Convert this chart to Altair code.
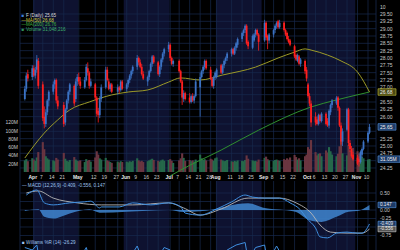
import altair as alt
import pandas as pd

# ---------------- data ----------------
HOLIDAYS = ["2014-04-18", "2014-05-26", "2014-07-04", "2014-09-01"]
trade_days = [d.strftime("%Y-%m-%dT00:00:00") for d in pd.bdate_range("2014-03-26", "2014-11-11")
              if d.strftime("%Y-%m-%d") not in HOLIDAYS]

opens = [
    26.6, 26.95, 27.45, 27.35,
    27.65, 27.4, 27.6, 27.9, 27.1, 26.0, 25.75, 26.15, 26.55, 26.85, 27.1, 27.25, 26.55, 26.4, 25.8, 26.25, 26.55, 26.85, 27.05, 26.6, 27.2,
    27.35, 27.2, 27.0, 27.25, 27.65, 27.5, 27.05, 27.1, 26.65, 26.2, 26.05, 26.6, 27.0, 27.6, 27.2, 26.95, 27.1, 26.85, 27.0, 26.9, 27.2,
    26.95, 27.1, 27.25, 27.4, 27.55, 27.7, 28.0, 27.85, 27.7, 27.45, 27.2, 27.35, 27.55, 27.8, 28.05, 27.85, 27.45, 27.7, 27.95, 28.15, 28.3,
    28.45, 28.0, 27.8, 27.9, 27.55, 27.2, 26.6, 26.8, 26.65, 26.5, 26.7, 26.55, 26.7, 27.0, 27.35, 27.55, 27.7, 27.9, 27.6, 27.3, 27.05, 27.35,
    27.35, 27.75, 27.5, 27.75, 27.9, 28.0, 28.15, 28.3, 28.15, 28.35, 28.45, 28.65, 28.85, 28.95, 29.1, 28.55, 28.35, 28.6, 28.8, 28.95, 28.8,
    28.6, 29.2, 28.75, 28.6, 28.8, 28.95, 29.1, 29.25, 29.05, 29.2, 28.95, 28.85, 28.65, 28.6, 28.4, 28.1, 27.9, 28.05, 27.8, 27.9, 27.6,
    27.1, 26.7, 26.45, 26.0, 25.9, 25.75, 26.05, 25.85, 26.1, 25.85, 25.7, 26.15, 26.4, 26.45, 26.65, 26.3, 25.7, 25.15, 25.55, 26.25, 25.1, 24.9, 24.7,
    24.6, 24.55, 24.45, 24.7, 24.9, 25.15, 25.45,
]
highs = [
    27.05, 27.5, 27.6, 27.75,
    27.75, 27.7, 28.1, 28.0, 27.2, 26.35, 26.25, 26.6, 26.9, 27.2, 27.3, 27.3, 26.7, 26.5, 26.3, 26.6, 26.9, 27.15, 27.1, 27.3, 27.45,
    27.5, 27.35, 27.35, 27.8, 27.85, 27.55, 27.3, 27.15, 26.7, 26.3, 26.7, 27.1, 27.7, 27.7, 27.3, 27.15, 27.15, 27.1, 27.05, 27.25, 27.25,
    27.15, 27.3, 27.45, 27.6, 27.75, 28.1, 28.05, 27.95, 27.8, 27.55, 27.4, 27.6, 27.85, 28.1, 28.1, 27.9, 27.75, 28.0, 28.2, 28.35, 28.55,
    28.5, 28.05, 27.95, 27.95, 27.6, 27.25, 26.9, 26.85, 26.8, 26.75, 26.8, 26.75, 27.3, 27.5, 27.6, 27.75, 27.95, 27.95, 27.7, 27.35, 27.4, 27.55,
    27.65, 27.8, 27.8, 27.95, 28.05, 28.2, 28.35, 28.35, 28.4, 28.55, 28.7, 28.9, 29.0, 29.15, 29.15, 28.6, 28.8, 28.85, 29.0, 29.0, 28.85,
    29.3, 29.25, 28.8, 28.85, 29.0, 29.15, 29.25, 29.3, 29.3, 29.25, 29.0, 28.9, 28.75, 28.65, 28.45, 28.15, 28.15, 28.1, 28.0, 27.95, 27.7,
    27.15, 26.8, 26.55, 26.15, 26.0, 26.1, 26.1, 26.15, 26.15, 25.95, 26.25, 26.45, 26.6, 26.7, 26.7, 26.35, 25.8, 25.6, 26.3, 26.3, 25.2, 25.0, 24.8,
    24.7, 24.65, 24.85, 24.95, 25.2, 25.5, 25.75,
]
lows = [
    26.55, 26.85, 27.2, 27.25,
    27.35, 27.3, 27.5, 26.95, 25.85, 25.6, 25.65, 26.05, 26.35, 26.75, 26.95, 26.45, 26.25, 25.65, 25.7, 26.15, 26.45, 26.75, 26.35, 26.5, 27.05,
    27.1, 26.95, 26.95, 27.2, 27.4, 26.95, 27.0, 26.55, 26.0, 25.8, 25.95, 26.5, 26.95, 27.2, 26.9, 26.85, 26.8, 26.75, 26.8, 26.85, 26.9,
    26.85, 27.0, 27.15, 27.3, 27.45, 27.6, 27.75, 27.65, 27.4, 27.25, 27.05, 27.25, 27.5, 27.7, 27.8, 27.4, 27.35, 27.6, 27.85, 28.05, 28.2,
    27.9, 27.75, 27.7, 27.5, 27.15, 26.4, 26.5, 26.55, 26.45, 26.45, 26.5, 26.45, 26.65, 26.0, 27.3, 27.45, 27.6, 27.6, 27.25, 27.0, 26.95, 27.25,
    27.3, 27.45, 27.45, 27.65, 27.8, 27.9, 28.05, 28.1, 28.1, 28.25, 28.35, 28.55, 28.75, 28.85, 28.45, 28.3, 28.3, 28.55, 28.7, 28.75, 28.25,
    28.55, 28.6, 28.3, 28.5, 28.7, 28.85, 29.0, 29.0, 29.0, 28.9, 28.75, 28.6, 28.5, 28.4, 28.0, 27.9, 27.85, 27.75, 27.7, 27.45, 27.2,
    26.65, 26.35, 25.65, 25.7, 25.7, 25.7, 25.8, 25.8, 25.7, 25.65, 25.6, 26.05, 26.3, 26.4, 26.2, 25.65, 25.05, 25.0, 25.5, 25.0, 24.8, 24.6, 24.5,
    24.35, 24.3, 24.4, 24.6, 24.85, 25.1, 25.4,
]
closes = [
    26.95, 27.4, 27.3, 27.65,
    27.4, 27.6, 27.95, 27.05, 25.95, 25.75, 26.15, 26.55, 26.85, 27.1, 27.25, 26.55, 26.35, 25.75, 26.25, 26.55, 26.85, 27.1, 26.45, 27.2, 27.35,
    27.2, 27.05, 27.25, 27.7, 27.5, 27.05, 27.2, 26.65, 26.1, 26.05, 26.6, 27.0, 27.6, 27.25, 26.95, 27.1, 26.85, 27.0, 26.9, 27.2, 26.95,
    27.1, 27.25, 27.4, 27.55, 27.7, 28.0, 27.85, 27.7, 27.45, 27.3, 27.35, 27.55, 27.8, 28.05, 27.85, 27.45, 27.7, 27.95, 28.15, 28.3, 28.45,
    28.0, 27.8, 27.9, 27.55, 27.2, 26.65, 26.8, 26.6, 26.5, 26.7, 26.55, 26.7, 27.2, 27.35, 27.55, 27.7, 27.9, 27.65, 27.3, 27.05, 27.35, 27.5,
    27.6, 27.5, 27.75, 27.9, 28.0, 28.15, 28.3, 28.15, 28.35, 28.5, 28.65, 28.85, 28.95, 29.1, 28.5, 28.4, 28.75, 28.8, 28.95, 28.8, 28.55,
    29.2, 28.7, 28.6, 28.8, 28.95, 29.1, 29.2, 29.05, 29.2, 28.95, 28.8, 28.65, 28.55, 28.45, 28.05, 27.95, 28.1, 27.8, 27.95, 27.55, 27.3,
    26.7, 26.45, 25.8, 25.8, 25.75, 26.05, 25.85, 26.1, 25.75, 25.7, 26.2, 26.4, 26.55, 26.65, 26.3, 25.7, 25.15, 25.5, 26.25, 25.1, 24.9, 24.65, 24.55,
    24.4, 24.45, 24.8, 24.9, 25.15, 25.45, 25.65,
]
volumes_m = [
    28, 31, 26, 33,
    30, 27, 35, 48, 72, 55, 38, 33, 30, 28, 26, 34, 30, 46, 32, 27, 25, 29, 36, 30, 27,
    26, 28, 24, 31, 27, 29, 25, 35, 50, 42, 33, 30, 34, 28, 26, 24, 22, 25, 23, 26, 24,
    25, 23, 26, 24, 27, 33, 28, 25, 27, 24, 26, 28, 30, 32, 29, 27, 25, 28, 30, 27, 29,
    31, 27, 22, 28, 33, 45, 34, 27, 29, 26, 28, 25, 30, 42, 33, 29, 31, 28, 32, 30, 27, 33,
    35, 30, 28, 26, 27, 29, 26, 24, 27, 25, 28, 27, 26, 29, 40, 32, 28, 26, 27, 25, 30,
    34, 37, 31, 28, 27, 29, 30, 28, 27, 31, 29, 33, 30, 35, 41, 36, 30, 33, 28, 38, 42,
    60, 55, 77, 48, 40, 44, 45, 38, 52, 47, 60, 50, 42, 38, 44, 62, 77, 45, 40, 65, 52, 47, 58,
    50, 45, 40, 36, 33, 30, 31,
]

ma50_dates = ["2014-03-26", "2014-04-08", "2014-04-17", "2014-04-25", "2014-05-08", "2014-05-23",
              "2014-06-03", "2014-06-16", "2014-06-30", "2014-07-08", "2014-07-21", "2014-08-05",
              "2014-08-27", "2014-09-11", "2014-09-22", "2014-09-29", "2014-10-03", "2014-10-14",
              "2014-10-23", "2014-11-03", "2014-11-11"]
ma50_vals = [24.59, 25.44, 25.89, 26.23, 26.50, 26.74, 26.84, 26.91, 27.18, 27.32, 27.25, 27.42,
             27.69, 28.0, 28.20, 28.31, 28.27, 28.10, 27.90, 27.52, 26.84]

ma200_dates = ["2014-06-30", "2014-07-08", "2014-08-04", "2014-08-29", "2014-10-03", "2014-10-20", "2014-11-11"]
ma200_vals = [23.95, 24.18, 24.86, 25.54, 26.33, 26.57, 26.84]

macd_dates = ["2014-03-27", "2014-04-03", "2014-04-08", "2014-04-14", "2014-04-25", "2014-05-05",
              "2014-05-09", "2014-05-15", "2014-05-16", "2014-05-28", "2014-06-06", "2014-06-18",
              "2014-06-30", "2014-07-08", "2014-07-11", "2014-07-21", "2014-08-01", "2014-08-11",
              "2014-08-20", "2014-08-25", "2014-09-02", "2014-09-12", "2014-09-19", "2014-09-26",
              "2014-09-30", "2014-10-06", "2014-10-09", "2014-10-14", "2014-10-20", "2014-10-27",
              "2014-11-03", "2014-11-06", "2014-11-11"]
macd_vals = [0.44, 0.59, 0.21, 0.15, 0.21, 0.24, 0.26, 0.06, 0.09, 0.09, 0.21, 0.15, 0.21, 0.09,
             -0.09, -0.15, 0.03, 0.24, 0.44, 0.38, 0.35, 0.35, 0.21, 0.0, -0.24, -0.53, -0.79,
             -0.82, -0.68, -0.65, -0.68, -0.68, -0.41]

signal_dates = ["2014-03-27", "2014-04-04", "2014-04-14", "2014-04-30", "2014-05-16", "2014-06-06",
                "2014-06-30", "2014-07-10", "2014-07-21", "2014-08-04", "2014-08-22", "2014-09-12",
                "2014-09-23", "2014-10-03", "2014-10-09", "2014-10-16", "2014-10-27", "2014-11-06",
                "2014-11-11"]
signal_vals = [0.50, 0.56, 0.35, 0.21, 0.15, 0.15, 0.21, 0.06, -0.15, 0.03, 0.35, 0.35, 0.21,
               -0.09, -0.44, -0.65, -0.68, -0.68, -0.56]

hist_dates = ["2014-03-26", "2014-04-04", "2014-04-08", "2014-04-14", "2014-04-25", "2014-05-08",
              "2014-05-15", "2014-06-02", "2014-06-16", "2014-06-30", "2014-07-10", "2014-07-21",
              "2014-08-05", "2014-08-15", "2014-08-22", "2014-09-02", "2014-09-15", "2014-09-23",
              "2014-10-02", "2014-10-10", "2014-10-20", "2014-10-28", "2014-11-03", "2014-11-11"]
hist_vals = [-0.03, 0.02, -0.2, -0.25, -0.1, 0.02, -0.08, -0.05, -0.02, 0.0, -0.06, -0.04, 0.08,
             0.18, 0.2, 0.06, 0.0, -0.06, -0.3, -0.35, -0.2, -0.05, -0.03, 0.15]

wr_dates = ["2014-03-26", "2014-03-31", "2014-04-03", "2014-04-08", "2014-04-15", "2014-04-21",
            "2014-04-25", "2014-05-01", "2014-05-06", "2014-05-13", "2014-05-19", "2014-05-27",
            "2014-06-03", "2014-06-09", "2014-06-16", "2014-06-27", "2014-07-01", "2014-07-09",
            "2014-07-18", "2014-07-24", "2014-07-29", "2014-08-08", "2014-08-14", "2014-08-20",
            "2014-08-22", "2014-08-27", "2014-09-02", "2014-09-04", "2014-09-10", "2014-09-17",
            "2014-09-24", "2014-10-03", "2014-10-10", "2014-10-17", "2014-10-21", "2014-10-24",
            "2014-10-28", "2014-11-03", "2014-11-11"]
wr_vals = [-15, -20, -10, -90, -30, -85, -25, -40, -15, -85, -30, -60, -40, -12, -70, -15, -20,
           -90, -40, -25, -70, -20, -10, -5, -40, -15, -10, -45, -12, -50, -80, -95, -80, -50,
           -35, -85, -70, -95, -26]

shade_start = ["2014-03-31T12:00:00", "2014-05-31T00:00:00", "2014-07-31T12:00:00", "2014-09-30T12:00:00"]
shade_end = ["2014-04-30T12:00:00", "2014-06-30T12:00:00", "2014-08-31T00:00:00", "2014-11-01T12:00:00"]

date_label_dates = ["2014-04-01", "2014-04-07", "2014-04-14", "2014-04-21", "2014-05-01", "2014-05-12",
                    "2014-05-19", "2014-05-27", "2014-06-02", "2014-06-09", "2014-06-16", "2014-06-23",
                    "2014-07-01", "2014-07-07", "2014-07-14", "2014-07-21", "2014-07-28", "2014-08-01",
                    "2014-08-11", "2014-08-18", "2014-08-25", "2014-09-02", "2014-09-08", "2014-09-15",
                    "2014-09-22", "2014-10-01", "2014-10-06", "2014-10-13", "2014-10-20", "2014-10-27",
                    "2014-11-03", "2014-11-10"]
date_labels = ["Apr", "7", "14", "21", "May", "12", "19", "27", "Jun", "9", "16", "23", "Jul", "7",
               "14", "21", "28", "Aug", "11", "18", "25", "Sep", "8", "15", "22", "Oct", "6", "13",
               "20", "27", "Nov", "10"]
MONTHS = {"Apr", "May", "Jun", "Jul", "Aug", "Sep", "Oct", "Nov"}

price_ticks = [24.25, 24.5, 24.75, 25.0, 25.25, 25.5, 25.75, 26.0, 26.25, 26.5, 26.75, 27.0,
               27.25, 27.5, 27.75, 28.0, 28.25, 28.5, 28.75, 29.0, 29.25, 29.5]
price_hidden = [24.5, 25.5, 25.75, 26.75]          # covered by value boxes in the reference
price_top_tick = 29.75
price_top_label = "10"
macd_ticks = [0.5, 0.25, 0.0, -0.25, -0.5, -0.75]
macd_hidden = [0.25, -0.5]
vol_ticks = [20, 40, 60, 80, 100, 120]

legend_lines = ["F (Daily) 25.65", "MA(50) 26.68", "MA(200) 26.76", "Volume 31,048,216"]
legend_colors = ["#d8d8d8", "#c8c43a", "#3fae3f", "#3fae6a"]
legend_icons = ["\u25a0", "\u2014", "\u2014", "\u25a0"]
legend_icon_colors = ["#3d7fd6", "#c8c43a", "#3fae3f", "#2f8f5a"]
macd_legend = "MACD (12,26,9) -0.409, -0.556, 0.147"
wr_legend = "Williams %R (14) -26.29"

# ---------------- styling ----------------
FONT = "Liberation Sans"
BG = "#000000"
SHADE = "#0e1230"
GRID = "#17294e"
UP = "#3b72c4"
DOWN = "#ff1f1f"
VUP = "#25684a"
VDOWN = "#6a3540"
LBL = "#c9c9c9"


def dt(s):
    return s if "T" in s else s + "T00:00:00"


X = alt.Scale(domain=[alt.DateTime(year=2014, month=3, date=26, hours=3),
                      alt.DateTime(year=2014, month=11, date=12)], range=[20, 376])
P = alt.Scale(domain=[24.113, 29.977], range=[172, 0], zero=False, nice=False)
V = alt.Scale(domain=[0, 414.5], range=[172, 0], nice=False)
M = alt.Scale(domain=[-0.853, 0.853], range=[239, 181], zero=False, nice=False)
W = alt.Scale(domain=[-100, 0], range=[290, 240], zero=False, nice=False)


def xe(f):
    return alt.X(f + ":T", scale=X, axis=None)


df = pd.DataFrame({"d": trade_days, "o": opens, "h": highs, "l": lows, "c": closes, "v": volumes_m})
df["cc"] = [UP if c >= o else DOWN for o, c in zip(df.o, df.c)]
df["vc"] = [VUP if c >= o else VDOWN for o, c in zip(df.o, df.c)]

shade = pd.DataFrame({"s": shade_start, "e": shade_end})
vgrid = pd.DataFrame({"d": [dt(s) for s in date_label_dates]})
lab = pd.DataFrame({"d": [dt(s) for s in date_label_dates], "t": date_labels})
lab["m"] = [t in MONTHS for t in lab.t]

layers = []
# month shading
for y0, y1 in [(0, 172), (181, 250)]:
    layers.append(alt.Chart(shade).mark_rect(color=SHADE).encode(
        x=xe("s"), x2="e:T", y=alt.value(y0), y2=alt.value(y1)))
# grid
for y0, y1 in [(0, 172), (181, 250)]:
    layers.append(alt.Chart(vgrid).mark_rule(color=GRID, strokeWidth=0.7).encode(
        x=xe("d"), y=alt.value(y0), y2=alt.value(y1)))
layers.append(alt.Chart(pd.DataFrame({"p": price_ticks})).mark_rule(color=GRID, strokeWidth=0.7).encode(
    y=alt.Y("p:Q", scale=P, axis=None), x=alt.value(20), x2=alt.value(376)))
layers.append(alt.Chart(pd.DataFrame({"p": macd_ticks})).mark_rule(color=GRID, strokeWidth=0.7).encode(
    y=alt.Y("p:Q", scale=M, axis=None), x=alt.value(20), x2=alt.value(376)))
# frame lines
layers.append(alt.Chart(pd.DataFrame({"x": [20, 376]})).mark_rule(color=GRID, strokeWidth=0.8).encode(
    x=alt.X("x:Q", scale=None, axis=None), y=alt.value(0), y2=alt.value(250)))

# volume
layers.append(alt.Chart(df).mark_bar(size=2.1).encode(
    x=xe("d"), y=alt.Y("v:Q", scale=V, axis=None), color=alt.Color("vc:N", scale=None)))
# moving averages
layers.append(alt.Chart(pd.DataFrame({"d": [dt(s) for s in ma200_dates], "p": ma200_vals}))
              .mark_line(color="#2f8f2f", strokeWidth=1, interpolate="monotone").encode(
    x=xe("d"), y=alt.Y("p:Q", scale=P, axis=None)))
layers.append(alt.Chart(pd.DataFrame({"d": [dt(s) for s in ma50_dates], "p": ma50_vals}))
              .mark_line(color="#9c9a28", strokeWidth=1, interpolate="monotone").encode(
    x=xe("d"), y=alt.Y("p:Q", scale=P, axis=None)))
# candles
layers.append(alt.Chart(df).mark_rule(strokeWidth=0.8).encode(
    x=xe("d"), y=alt.Y("l:Q", scale=P, axis=None), y2="h:Q", color=alt.Color("cc:N", scale=None)))
layers.append(alt.Chart(df).mark_bar(size=1.8).encode(
    x=xe("d"), y=alt.Y("o:Q", scale=P, axis=None), y2="c:Q", color=alt.Color("cc:N", scale=None)))

# MACD
layers.append(alt.Chart(pd.DataFrame({"d": [dt(s) for s in hist_dates], "p": hist_vals}))
              .mark_area(color="#3f86d0", opacity=0.85, interpolate="monotone").encode(
    x=xe("d"), y=alt.Y("p:Q", scale=M, axis=None)))
layers.append(alt.Chart(pd.DataFrame({"d": [dt(s) for s in signal_dates], "p": signal_vals}))
              .mark_line(color="#b8b8b8", strokeWidth=0.9, interpolate="monotone").encode(
    x=xe("d"), y=alt.Y("p:Q", scale=M, axis=None)))
layers.append(alt.Chart(pd.DataFrame({"d": [dt(s) for s in macd_dates], "p": macd_vals}))
              .mark_line(color="#3f8fe0", strokeWidth=1, interpolate="monotone").encode(
    x=xe("d"), y=alt.Y("p:Q", scale=M, axis=None)))
# Williams %R
layers.append(alt.Chart(pd.DataFrame({"d": [dt(s) for s in wr_dates], "p": wr_vals}))
              .mark_line(color="#3f8fe0", strokeWidth=1).encode(
    x=xe("d"), y=alt.Y("p:Q", scale=W, axis=None)))

# date labels
layers.append(alt.Chart(lab[~lab.m]).mark_text(font=FONT, fontSize=5, color=LBL, baseline="middle",
                                               dx=-1.5).encode(
    x=xe("d"), y=alt.value(177), text="t:N"))
layers.append(alt.Chart(lab[lab.m]).mark_text(font=FONT, fontSize=5, fontWeight="bold", color="#e8e8e8",
                                              baseline="middle", dx=-1).encode(
    x=xe("d"), y=alt.value(177), text="t:N"))
# price labels
pt = [v for v in price_ticks if v not in price_hidden]
layers.append(alt.Chart(pd.DataFrame({"p": pt, "t": [f"{v:.2f}" for v in pt]}))
              .mark_text(font=FONT, fontSize=5, color=LBL, align="left", baseline="middle").encode(
    y=alt.Y("p:Q", scale=P, axis=None), x=alt.value(380), text="t:N"))
layers.append(alt.Chart(pd.DataFrame({"p": [price_top_tick], "t": [price_top_label]}))
              .mark_text(font=FONT, fontSize=5, color=LBL, align="left", baseline="middle").encode(
    y=alt.Y("p:Q", scale=P, axis=None), x=alt.value(380), text="t:N"))
mt = [v for v in macd_ticks if v not in macd_hidden]
layers.append(alt.Chart(pd.DataFrame({"p": mt, "t": [f"{v:.2f}" for v in mt]}))
              .mark_text(font=FONT, fontSize=5, color=LBL, align="left", baseline="middle").encode(
    y=alt.Y("p:Q", scale=M, axis=None), x=alt.value(380), text="t:N"))
layers.append(alt.Chart(pd.DataFrame({"p": vol_ticks, "t": [f"{v}M" for v in vol_ticks]}))
              .mark_text(font=FONT, fontSize=5, color=LBL, align="right", baseline="middle").encode(
    y=alt.Y("p:Q", scale=V, axis=None), x=alt.value(18), text="t:N"))

# value boxes on right axis
boxes_p = pd.DataFrame({"p": [ma50_vals[-1], closes[-1]], "t": ["26.68", "25.65"],
                        "f": ["#4a4812", "#1c3a66"], "s": ["#c8c43a", "#5a9ae6"]})
layers.append(alt.Chart(boxes_p).mark_rect(height=6.5, strokeWidth=0.6).encode(
    y=alt.Y("p:Q", scale=P, axis=None), x=alt.value(378), x2=alt.value(396),
    fill=alt.Fill("f:N", scale=None), stroke=alt.Stroke("s:N", scale=None)))
layers.append(alt.Chart(boxes_p).mark_text(font=FONT, fontSize=5, color="#f0f0f0", align="left",
                                           baseline="middle").encode(
    y=alt.Y("p:Q", scale=P, axis=None), x=alt.value(380), text="t:N"))
boxes_v = pd.DataFrame({"p": [volumes_m[-1]], "t": ["31.05M"]})
layers.append(alt.Chart(boxes_v).mark_rect(height=6.5, strokeWidth=0.6, fill="#1c3a66", stroke="#5a9ae6").encode(
    y=alt.Y("p:Q", scale=V, axis=None), x=alt.value(378), x2=alt.value(400)))
layers.append(alt.Chart(boxes_v).mark_text(font=FONT, fontSize=5, color="#f0f0f0", align="left",
                                           baseline="middle").encode(
    y=alt.Y("p:Q", scale=V, axis=None), x=alt.value(380), text="t:N"))
boxes_m = pd.DataFrame({"p": [hist_vals[-1], macd_vals[-1], signal_vals[-1]], "t": ["0.147", "-0.409", "-0.556"],
                        "f": ["#1c3a66", "#1c3a66", "#555555"], "s": ["#5a9ae6", "#5a9ae6", "#cfcfcf"]})
layers.append(alt.Chart(boxes_m).mark_rect(height=5.5, strokeWidth=0.6).encode(
    y=alt.Y("p:Q", scale=M, axis=None), x=alt.value(378), x2=alt.value(396),
    fill=alt.Fill("f:N", scale=None), stroke=alt.Stroke("s:N", scale=None)))
layers.append(alt.Chart(boxes_m).mark_text(font=FONT, fontSize=4.6, color="#f0f0f0", align="left",
                                           baseline="middle").encode(
    y=alt.Y("p:Q", scale=M, axis=None), x=alt.value(380), text="t:N"))

# legends
leg = pd.DataFrame({"t": legend_lines, "c": legend_colors, "i": legend_icons, "ic": legend_icon_colors,
                    "k": [0, 1, 2, 3]})
LEGY = alt.Scale(domain=[0, 3], range=[16, 29.5])
layers.append(alt.Chart(leg).mark_text(font=FONT, fontSize=4.6, align="left", baseline="middle").encode(
    y=alt.Y("k:Q", scale=LEGY, axis=None), x=alt.value(26), text="t:N", color=alt.Color("c:N", scale=None)))
layers.append(alt.Chart(leg).mark_text(font=FONT, fontSize=4.6, align="left", baseline="middle").encode(
    y=alt.Y("k:Q", scale=LEGY, axis=None), x=alt.value(21.5), text="i:N", color=alt.Color("ic:N", scale=None)))
sub = pd.DataFrame({"t": ["\u2014 " + macd_legend, "\u25a0 " + wr_legend], "y": [186, 242.5]})
layers.append(alt.Chart(sub).mark_text(font=FONT, fontSize=4.6, align="left", baseline="middle",
                                       color="#9ec4ee").encode(
    y=alt.Y("y:Q", scale=None, axis=None), x=alt.value(22), text="t:N"))

chart = alt.layer(*layers).resolve_scale(y="independent").properties(
    width=400, height=250, padding=0, autosize=alt.AutoSizeParams(type="none"), background=BG
).configure_view(strokeWidth=0)

chart.save("out.html", embed_options={"renderer": "svg", "actions": False})
